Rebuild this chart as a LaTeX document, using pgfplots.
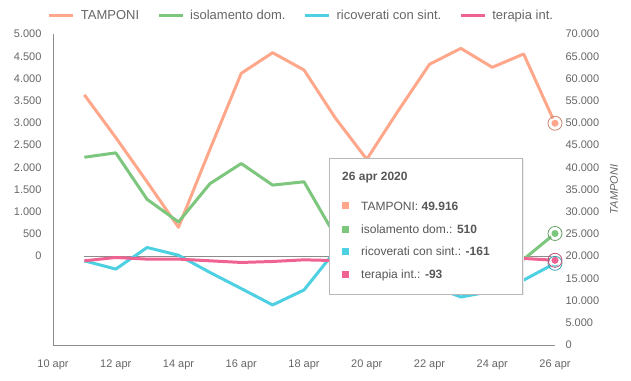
\documentclass[border=0pt]{standalone}
\usepackage{fontspec}
\setmainfont{Liberation Sans}
\usepackage{pgfplots}
\pgfplotsset{compat=1.18}
\definecolor{tamp}{RGB}{255,167,138}
\definecolor{iso}{RGB}{125,198,125}
\definecolor{ric}{RGB}{77,208,225}
\definecolor{ter}{RGB}{240,98,146}
\definecolor{txt}{RGB}{102,102,102}
\definecolor{axl}{RGB}{140,140,140}
\begin{document}
\begin{tikzpicture}[x=1pt,y=1pt]
\path[use as bounding box] (0,0) rectangle (631,380);
% right axis: TAMPONI
\begin{axis}[
  at={(53pt,35pt)}, anchor=south west,
  scale only axis, width=502pt, height=311pt,
  xmin=10, xmax=26, ymin=0, ymax=70000,
  axis x line=none, axis y line*=right,
  y axis line style={draw=none},
  major tick length=0pt,
  ytick={0,5000,...,70000}, scaled y ticks=false,
  /pgf/number format/.cd, 1000 sep={.}, assume math mode=true, /pgfplots/.cd,
  yticklabel style={font=\fontsize{11}{13}\selectfont, text=txt, anchor=west, xshift=7pt},
  ylabel={\itshape TAMPONI},
  every axis y label/.style={at={(rel axis cs:1,0.5)}, xshift=59pt, rotate=90, anchor=center, font=\fontsize{11}{13}\selectfont, text=txt},
  clip=false,
]
\addplot[tamp, line width=3pt, line join=round, mark=*, mark indices={16}, mark size=4.5pt, mark options={fill=tamp, draw=white, line width=1.5pt}] coordinates {
(11,56300) (12,46700) (13,36700) (14,26500) (15,44000) (16,61150) (17,65790) (18,61900)
(19,51080) (20,41800) (21,52700) (22,63180) (23,66770) (24,62500) (25,65500) (26,49916)};
\addplot[only marks, mark=o, mark size=7pt, draw=tamp!80!black, line width=0.8pt] coordinates {(26,49916)};
\end{axis}
% left axis
\begin{axis}[
  at={(53pt,35pt)}, anchor=south west,
  scale only axis, width=502pt, height=311pt,
  xmin=10, xmax=26, ymin=-2000, ymax=5000,
  axis x line*=bottom, axis y line*=left,
  axis line style={draw=axl, line width=1pt},
  major tick length=0pt,
  xtick={10,12,...,26},
  xticklabels={10 apr,12 apr,14 apr,16 apr,18 apr,20 apr,22 apr,24 apr,26 apr},
  ytick={0,500,...,5000},
  /pgf/number format/.cd, 1000 sep={.}, assume math mode=true, /pgfplots/.cd,
  yticklabel style={font=\fontsize{11}{13}\selectfont, text=txt, xshift=-8pt},
  xticklabel style={font=\fontsize{11}{13}\selectfont, text=txt, yshift=-11pt},
  legend style={at={(0.495,1.058)}, anchor=center, draw=none, fill=none,
    font=\fontsize{13}{15}\selectfont, text=txt,
    /tikz/every odd column/.append style={column sep=4pt},
    /tikz/every even column/.append style={column sep=16pt}},
  legend columns=4,
  legend image code/.code={\draw[#1, line width=3pt] (0pt,0pt) -- (24pt,0pt);},
  clip=false,
]
\addlegendimage{tamp}
\addlegendentry{TAMPONI}
\addplot[axl, line width=1.2pt, forget plot] coordinates {(11,0) (26,0)};
\addplot[iso, line width=3pt, line join=round, mark=*, mark indices={16}, mark size=4.5pt, mark options={fill=iso, draw=white, line width=1.5pt}] coordinates {
(11,2226) (12,2325) (13,1278) (14,769) (15,1630) (16,2085) (17,1599) (18,1674)
(19,450) (20,250) (21,350) (22,150) (23,250) (24,60) (25,-70) (26,510)};
\addlegendentry{isolamento dom.}
\addplot[ric, line width=3pt, line join=round, mark=*, mark indices={16}, mark size=4.5pt, mark options={fill=ric, draw=white, line width=1.5pt}] coordinates {
(11,-105) (12,-291) (13,195) (14,20) (15,-366) (16,-730) (17,-1099) (18,-762)
(19,120) (20,-200) (21,-420) (22,-650) (23,-920) (24,-790) (25,-540) (26,-161)};
\addlegendentry{ricoverati con sint.}
\addplot[ter, line width=3pt, line join=round, mark=*, mark indices={16}, mark size=4.5pt, mark options={fill=ter, draw=white, line width=1.5pt}] coordinates {
(11,-105) (12,-30) (13,-67) (14,-67) (15,-105) (16,-142) (17,-120) (18,-83)
(19,-100) (20,-90) (21,-80) (22,-70) (23,-60) (24,-60) (25,-52) (26,-93)};
\addlegendentry{terapia int.}
\addplot[only marks, mark=o, mark size=7pt, draw=iso!80!black, line width=0.8pt, forget plot] coordinates {(26,510)};
\addplot[only marks, mark=o, mark size=7pt, draw=ric!80!black, line width=0.8pt, forget plot] coordinates {(26,-161)};
\addplot[only marks, mark=o, mark size=7pt, draw=ter!80!black, line width=0.8pt, forget plot] coordinates {(26,-93)};
\end{axis}
% tooltip
\fill[black!8] (330.5,84.5) rectangle (523.5,220.5);
\draw[draw=black!28, fill=white, line width=0.8pt] (329,222) rectangle (522,86);
\node[anchor=west, font=\fontsize{12}{14}\selectfont\bfseries, text=txt!85!black, inner sep=0pt] at (342,202) {26 apr 2020};
\fill[tamp] (342,170.5) rectangle +(7,7);
\node[anchor=west, font=\fontsize{12}{14}\selectfont, text=txt!85!black, inner sep=0pt] at (361,174) {TAMPONI: \textbf{49.916}};
\fill[iso] (342,146.8) rectangle +(7,7);
\node[anchor=west, font=\fontsize{12}{14}\selectfont, text=txt!85!black, inner sep=0pt] at (361,150.3) {isolamento dom.: \textbf{510}};
\fill[ric] (342,124.8) rectangle +(7,7);
\node[anchor=west, font=\fontsize{12}{14}\selectfont, text=txt!85!black, inner sep=0pt] at (361,128.3) {ricoverati con sint.: \textbf{-161}};
\fill[ter] (342,101.5) rectangle +(7,7);
\node[anchor=west, font=\fontsize{12}{14}\selectfont, text=txt!85!black, inner sep=0pt] at (361,105) {terapia int.: \textbf{-93}};
\end{tikzpicture}
\end{document}
